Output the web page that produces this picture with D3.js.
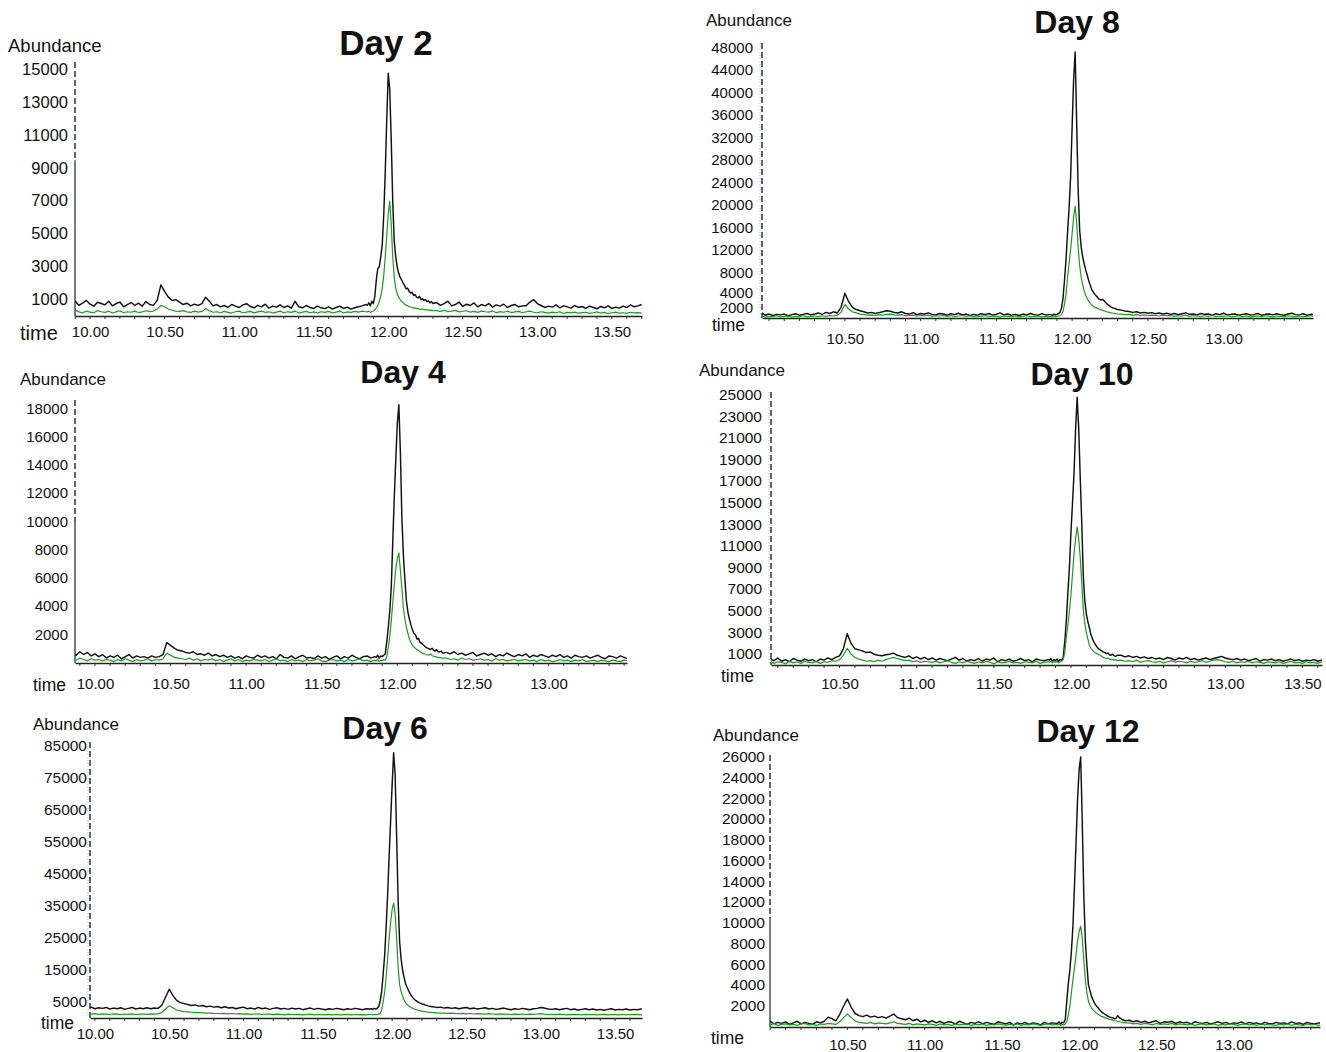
<!DOCTYPE html>
<html><head><meta charset="utf-8">
<script src="https://cdn.jsdelivr.net/npm/d3@7"></script>
<style>
body{margin:0;background:#fff}
svg{display:block}
text{font-family:"Liberation Sans",Arial,sans-serif;fill:#111}
</style>
</head><body>
<svg id="chart" width="1326" height="1052"></svg>
<script>
// ---------- sampling times (min) shared by all runs ----------
const times = [
 9.85,9.875,9.9,9.925,9.95,9.975,10,10.025,10.05,10.075,
 10.1,10.125,10.15,10.175,10.2,10.225,10.25,10.275,10.3,10.325,
 10.35,10.375,10.4,10.425,10.45,10.475,10.5,10.525,10.55,10.575,
 10.6,10.625,10.65,10.675,10.7,10.725,10.75,10.775,10.8,10.825,
 10.85,10.875,10.9,10.925,10.95,10.975,11,11.025,11.05,11.075,
 11.1,11.125,11.15,11.175,11.2,11.225,11.25,11.275,11.3,11.325,
 11.35,11.375,11.4,11.425,11.45,11.475,11.5,11.525,11.55,11.575,
 11.6,11.625,11.65,11.675,11.7,11.725,11.75,11.775,11.8,11.825,
 11.85,
 11.86,11.87,11.88,11.89,11.9,11.91,11.92,11.93,11.94,11.95,
 11.96,11.97,11.98,11.99,12,12.01,12.02,12.03,12.04,12.05,
 12.06,12.07,12.08,12.09,12.1,12.11,12.12,12.13,12.14,12.15,
 12.16,12.17,12.18,12.19,12.2,12.21,12.22,12.23,12.24,12.25,
 12.26,12.27,12.28,12.29,12.3,
 12.325,12.35,12.375,12.4,12.425,12.45,12.475,12.5,12.525,12.55,
 12.575,12.6,12.625,12.65,12.675,12.7,12.725,12.75,12.775,12.8,
 12.825,12.85,12.875,12.9,12.925,12.95,12.975,13,13.025,13.05,
 13.075,13.1,13.125,13.15,13.175,13.2,13.225,13.25,13.275,13.3,
 13.325,13.35,13.375,13.4,13.425,13.45,13.475,13.5,13.525,13.55,
 13.575,13.6,13.625,13.65,13.675,13.7
];

// ---------- Day 2 ----------
const day2Black = [
 820,700,900,650,780,950,720,600,840,760,
 680,900,620,760,850,560,700,820,640,780,
 600,880,700,650,950,1900,1500,1150,950,1000,
 850,700,780,620,720,650,760,1150,900,620,
 700,560,640,520,700,600,520,680,750,580,
 500,650,560,720,480,600,540,680,520,620,
 480,900,560,500,640,520,460,600,500,450,
 560,420,520,600,460,540,420,500,560,620,
 700,
 650,800,620,900,750,1200,2200,2900,3000,3600,
 4400,6200,8800,12000,14800,13800,10800,7000,4600,3600,
 3000,2600,2350,2200,2000,1850,1650,1700,1500,1400,
 1450,1250,1300,1150,1100,1200,1000,1050,950,1000,
 880,920,800,880,760,
 820,650,760,900,620,700,850,580,720,640,
 800,560,700,620,760,540,680,600,720,520,
 640,700,560,620,620,850,1000,760,640,520,
 600,540,680,500,620,560,480,640,520,580,
 460,600,520,440,580,500,620,460,540,480,
 600,520,680,560,620,700
];
const day2Green = [
 300,220,360,250,180,300,240,200,330,260,
 220,290,180,250,320,200,260,230,300,210,
 250,320,280,300,420,650,560,420,350,300,
 280,330,250,220,300,240,280,450,320,230,
 260,200,280,220,180,260,300,200,240,280,
 190,250,300,220,260,180,240,300,200,260,
 220,300,180,240,280,200,250,180,260,220,
 280,200,240,300,180,250,220,280,240,300,
 260,
 250,300,220,280,300,380,500,650,900,1200,
 1700,2500,3600,4900,6200,7000,5600,3600,2400,1700,
 1350,1150,1000,880,800,720,660,630,570,550,
 520,480,500,440,460,420,400,430,380,400,
 360,380,340,360,320,
 330,280,350,260,300,340,250,290,320,240,
 280,220,300,260,240,310,200,270,230,290,
 210,250,280,200,260,300,230,200,260,220,
 180,240,200,260,150,220,190,240,170,210,
 230,160,200,250,180,220,140,200,240,170,
 200,160,230,190,210,180
];
const day2YTicks = [1000,3000,5000,7000,9000,11000,13000,15000];
const day2XTicks = [10.00,10.50,11.00,11.50,12.00,12.50,13.00,13.50];

// ---------- Day 8 ----------
const day8Black = [
 600,700,800,650,900,500,700,450,650,550,
 700,400,600,750,500,650,800,550,700,900,
 650,1000,800,1100,900,1900,4400,2900,1900,1500,
 1300,1100,900,1000,800,950,1100,1300,1200,1000,
 900,1100,800,700,950,600,800,700,900,650,
 550,800,700,500,750,600,850,550,700,450,
 650,500,750,600,800,500,650,900,550,700,
 500,650,450,700,550,800,600,500,750,550,
 600,
 600,450,700,550,650,800,1000,1800,3500,6800,
 10500,15300,19500,25000,34000,42500,47300,34700,22700,15500,
 12600,10800,9600,8500,7600,6600,5800,5000,4600,4200,
 3900,3600,3300,3200,3300,3100,2800,2500,2300,2100,
 1900,1800,1700,1600,1500,
 1400,1250,1150,1000,1100,900,1000,850,950,750,
 900,700,850,650,800,600,750,900,650,700,
 550,800,650,700,500,750,600,850,550,650,
 700,500,650,750,550,600,800,500,650,700,
 550,750,600,500,700,850,600,550,750,500,
 650,600,800,550,700,600
];
const day8Green = [
 300,200,400,250,350,150,300,250,400,200,
 300,350,150,300,250,400,200,300,350,250,
 400,300,450,350,500,1000,2400,1600,1100,900,
 700,600,500,550,450,600,500,650,700,550,
 500,600,400,450,500,350,450,400,500,300,
 400,350,450,300,400,250,350,450,300,400,
 250,350,300,450,250,350,300,200,350,300,
 250,350,200,300,400,250,300,350,200,300,
 250,
 300,200,350,250,300,350,400,600,1200,2500,
 4300,7200,9800,12200,15000,18000,19900,17000,12500,9300,
 7200,5900,4800,4000,3400,3000,2600,2300,2100,1900,
 1800,1650,1550,1450,1400,1300,1200,1100,1050,950,
 900,850,800,750,720,
 700,600,650,500,600,450,550,400,500,450,
 350,500,400,450,300,400,350,500,300,400,
 350,250,400,300,450,250,350,300,400,250,
 300,400,250,350,200,300,350,250,400,300,
 200,350,300,250,400,300,200,350,250,300,
 400,250,300,350,200,300
];
const day8YTicks = [2000,4000,8000,12000,16000,20000,24000,28000,32000,36000,40000,44000,48000];
const day8XTicks = [10.50,11.00,11.50,12.00,12.50,13.00];

// ---------- Day 4 ----------
const day4Black = [
 700,550,800,600,750,500,650,450,600,350,
 500,400,550,300,450,600,350,500,400,450,
 350,500,400,450,600,1450,1250,1050,900,850,
 750,700,800,600,650,550,700,500,600,450,
 550,400,500,350,450,300,500,400,350,550,
 400,500,350,450,300,600,400,350,500,300,
 450,550,350,400,300,500,350,450,250,400,
 500,300,450,350,550,400,300,450,500,350,
 450,
 400,550,350,500,450,550,650,1500,2500,3700,
 5400,8700,11800,14500,17000,18300,15000,10300,7650,5900,
 4400,3600,3100,2700,2350,2100,2000,1700,1750,1450,
 1400,1300,1200,1100,1050,1000,950,1050,900,850,
 950,800,780,850,700,
 750,650,800,600,700,550,650,750,500,600,
 700,550,650,450,600,500,700,550,450,600,
 500,650,400,550,450,600,500,400,550,450,
 600,400,500,350,550,450,400,500,350,450,
 550,400,300,500,450,350,500,400,300,450,
 350,400,300,350,400,300
];
const day4Green = [
 300,200,350,250,150,300,200,250,150,250,
 200,100,250,150,300,200,100,250,150,200,
 300,150,250,200,300,700,550,400,350,300,
 250,350,200,300,150,250,200,300,150,250,
 100,200,300,150,250,100,200,150,250,200,
 150,250,100,200,300,150,200,100,250,150,
 200,100,250,150,200,300,150,100,200,250,
 150,200,100,250,150,200,300,150,200,100,
 200,
 150,250,100,200,150,250,200,450,1100,1900,
 3000,4300,5600,6700,7400,7800,6600,5300,3900,3100,
 2550,2100,1700,1450,1250,1130,1030,950,880,800,
 720,680,640,600,580,560,650,520,480,450,
 420,400,380,360,340,
 350,250,300,200,350,250,300,200,250,300,
 200,250,150,300,200,250,150,200,250,150,
 200,250,150,200,100,250,150,200,100,150,
 250,150,200,100,200,150,250,100,150,200,
 100,200,150,100,200,150,100,200,150,100,
 150,200,100,150,100,150
];
const day4YTicks = [2000,4000,6000,8000,10000,12000,14000,16000,18000];
const day4XTicks = [10.00,10.50,11.00,11.50,12.00,12.50,13.00];

// ---------- Day 10 ----------
const day10Black = [
 500,400,600,350,550,450,700,300,550,400,
 650,350,500,300,600,450,350,550,400,500,
 300,550,450,650,500,700,850,1500,2900,2000,
 1500,1400,1300,1150,1200,1000,900,850,950,1000,
 1100,900,800,700,850,600,750,550,700,500,
 650,450,600,500,400,550,700,450,600,350,
 500,400,600,350,550,450,650,300,500,400,
 550,350,450,600,400,500,300,550,450,400,
 500,
 450,600,350,500,400,550,350,500,450,700,
 2200,4100,6700,9000,12300,15000,17800,21800,24800,22000,
 17400,13200,8200,5900,4700,4000,3400,2800,2400,2100,
 1850,1650,1500,1400,1300,1200,1150,1050,1100,950,
 900,1000,850,800,900,
 900,750,850,700,800,650,750,600,700,550,
 650,500,700,600,450,650,550,700,500,600,
 450,550,650,500,600,700,800,650,550,500,
 600,450,550,400,500,600,350,500,450,550,
 400,500,350,450,550,400,500,350,450,400,
 500,350,450,550,400,500
];
const day10Green = [
 300,200,400,250,350,150,300,200,350,150,
 300,250,100,350,200,300,150,350,250,200,
 350,150,300,250,400,350,500,900,1550,1000,
 700,550,450,350,400,300,450,350,500,600,
 700,600,500,400,450,300,400,250,350,300,
 250,350,200,300,400,250,150,300,200,350,
 250,150,300,200,350,250,100,300,200,250,
 350,200,250,150,300,250,200,350,150,250,
 300,
 250,350,200,300,250,350,200,300,350,500,
 1200,2500,3700,5000,6500,8400,10300,11700,12800,11700,
 10000,7600,5100,3800,3000,2400,1800,1550,1350,1200,
 1100,1050,950,900,800,700,650,600,650,550,
 500,550,450,500,400,
 450,350,400,300,450,250,350,400,300,250,
 350,200,300,400,250,350,300,200,350,250,
 300,400,250,350,450,500,400,300,250,350,
 200,300,250,350,200,300,250,150,300,250,
 200,300,150,250,350,200,250,150,300,200,
 250,150,300,200,250,200
];
const day10YTicks = [1000,3000,5000,7000,9000,11000,13000,15000,17000,19000,21000,23000,25000];
const day10XTicks = [10.50,11.00,11.50,12.00,12.50,13.00,13.50];

// ---------- Day 6 ----------
const day6Black = [
 3800,3500,3300,3600,3100,3400,2900,3200,3000,3300,
 2800,3100,2900,3200,2700,3000,3300,2800,3100,2900,
 3200,2900,3100,3000,4000,6500,9000,7000,5500,4800,
 4500,4200,3900,4100,3700,3900,3500,3700,3400,3600,
 3200,3500,3100,3300,2900,3200,3400,2900,3100,2800,
 3300,2900,3100,2700,3000,3200,2800,3000,2700,3100,
 2800,3000,2600,2900,3100,2700,3000,2800,2600,2900,
 2700,3000,2800,2600,2900,2700,3000,2800,2600,2900,
 2800,
 2900,2700,3000,2800,3100,3600,5500,8500,14000,20000,
 29000,39000,51000,62000,73000,82900,76000,57000,37000,24000,
 18500,15000,12700,10800,9600,8600,7700,6900,6300,5800,
 5400,5100,4800,4600,4400,4300,4100,4000,3800,3700,
 3600,3500,3500,3400,3300,
 3400,3100,3300,3000,3200,2900,3100,3300,2900,3100,
 2800,3000,3200,2800,3000,2700,2900,3100,2800,2600,
 2900,2700,3000,2800,2600,2900,3000,3300,3100,2800,
 2700,2900,2600,2800,3000,2600,2800,2500,2700,2900,
 2600,2800,2500,2700,2400,2700,2900,2500,2700,2600,
 2800,2500,2700,2600,2800,2700
];
const day6Green = [
 1600,1400,1500,1300,1450,1200,1350,1150,1300,1200,
 1100,1300,1200,1050,1250,1150,1300,1100,1200,1250,
 1150,1300,1200,1350,1700,2800,3800,3200,2500,2200,
 2000,1900,1800,1700,1650,1600,1500,1550,1450,1400,
 1350,1450,1300,1400,1250,1350,1200,1300,1150,1250,
 1300,1100,1250,1200,1050,1200,1150,1000,1200,1100,
 1050,1150,1000,1100,1200,950,1100,1050,1000,1150,
 1000,1100,950,1050,1150,1000,1100,950,1050,1000,
 1100,
 1100,1000,1150,1050,1100,1200,1500,2600,5200,8200,
 13000,19000,25000,30000,34000,35900,32500,25000,16000,10500,
 8300,6900,5700,4800,4200,3800,3500,3200,3000,2800,
 2600,2500,2350,2250,2150,2050,2000,1900,1850,1800,
 1750,1700,1650,1600,1600,
 1550,1500,1450,1500,1400,1350,1450,1300,1400,1250,
 1350,1300,1200,1350,1250,1150,1300,1200,1250,1100,
 1200,1150,1250,1100,1200,1150,1250,1350,1200,1100,
 1150,1050,1200,1100,1000,1150,1050,1100,1000,1150,
 1050,1100,950,1050,1150,1000,1100,1050,950,1100,
 1000,1100,1050,1150,1000,1100
];
const day6YTicks = [5000,15000,25000,35000,45000,55000,65000,75000,85000];
const day6XTicks = [10.00,10.50,11.00,11.50,12.00,12.50,13.00,13.50];

// ---------- Day 12 ----------
const day12Black = [
 500,300,450,350,500,250,550,300,450,350,
 500,250,400,550,300,450,350,250,500,400,
 550,950,800,600,1200,2000,2700,1900,1300,1100,
 1000,1150,950,1050,900,1000,850,1050,1250,900,
 800,700,850,600,750,500,650,450,600,400,
 550,350,500,450,300,550,400,250,450,350,
 500,300,450,350,250,500,400,300,450,200,
 400,300,450,250,400,350,200,450,300,400,
 350,
 350,500,300,450,400,700,2500,4200,5500,7300,
 9800,13700,17800,22000,24800,26000,19900,12800,8300,6000,
 4100,3500,2950,2600,2300,2050,1900,1700,1550,1400,
 1300,1200,1100,1000,950,900,850,800,850,1100,
 900,800,700,650,600,
 650,500,600,450,550,400,500,600,350,500,
 450,550,350,500,400,450,300,500,400,350,
 450,300,400,500,350,450,300,400,350,500,
 300,450,350,400,250,450,350,300,450,350,
 400,300,500,350,400,250,450,350,300,400,
 350,450,300,400,350,450
];
const day12Green = [
 300,200,350,150,300,250,200,350,150,250,
 300,200,250,150,300,350,200,250,150,300,
 250,350,300,250,500,900,1260,900,600,450,
 400,350,450,300,400,350,300,400,500,350,
 300,250,350,200,300,250,200,300,250,150,
 300,200,250,150,300,200,250,300,150,250,
 200,300,150,250,200,300,250,150,250,200,
 300,150,250,200,300,250,150,250,300,200,
 250,
 200,300,150,250,200,300,500,1200,2000,3300,
 4600,5700,7000,8300,9200,9700,8600,6500,4600,3300,
 2500,2100,1850,1650,1500,1350,1250,1150,1050,1000,
 950,880,820,760,720,680,640,600,580,550,
 520,480,450,420,400,
 400,300,350,250,350,300,200,350,250,300,
 250,350,200,300,250,200,300,150,250,300,
 200,250,300,150,250,200,300,250,150,250,
 300,200,250,150,300,200,250,200,150,250,
 200,300,150,250,200,150,300,200,250,150,
 250,200,300,150,250,200
];
const day12YTicks = [2000,4000,6000,8000,10000,12000,14000,16000,18000,20000,22000,24000,26000];
const day12XTicks = [10.50,11.00,11.50,12.00,12.50,13.00];

// ---------- layout (positions only) ----------
const panels = [
 {title:"Day 2", black:day2Black, green:day2Green, yTicks:day2YTicks, xTicks:day2XTicks,
  x0:75, x1:642, t0:9.899, t1:13.702, yZero:316, yTop:70, yMax:15000, axisTop:62,
  yPad:7, xPad:10, yFont:16.5, xFont:15, ab:[8,45,18.5], tm:[20,333,20], ti:[386,42,35], solidBelow:9500, blue:false},
 {title:"Day 8", black:day8Black, green:day8Green, yTicks:day8YTicks, xTicks:day8XTicks,
  x0:762, x1:1313, t0:9.953, t1:13.590, yZero:318, yTop:48, yMax:48000, axisTop:43,
  yPad:9, xPad:15, yFont:15, xFont:15, ab:[706,20,17], tm:[712,325,17.5], ti:[1077,22,32], solidBelow:null, blue:true},
 {title:"Day 4", black:day4Black, green:day4Green, yTicks:day4YTicks, xTicks:day4XTicks,
  x0:75, x1:627, t0:9.868, t1:13.519, yZero:663, yTop:409, yMax:18000, axisTop:400,
  yPad:7, xPad:15, yFont:15, xFont:15, ab:[20,379,17], tm:[33,685,17.5], ti:[403,372,32], solidBelow:10000, blue:false},
 {title:"Day 10", black:day10Black, green:day10Green, yTicks:day10YTicks, xTicks:day10XTicks,
  x0:771, x1:1322, t0:10.056, t1:13.627, yZero:665, yTop:395, yMax:25000, axisTop:392,
  yPad:9, xPad:13, yFont:15.5, xFont:15, ab:[699,370,17], tm:[721,676,17.5], ti:[1082,374,32], solidBelow:null, blue:true},
 {title:"Day 6", black:day6Black, green:day6Green, yTicks:day6YTicks, xTicks:day6XTicks,
  x0:90, x1:642, t0:9.967, t1:13.681, yZero:1018, yTop:746, yMax:85000, axisTop:742,
  yPad:3, xPad:10, yFont:15.5, xFont:15, ab:[33,724,17], tm:[41,1023,17.5], ti:[385,728,32], solidBelow:null, blue:true},
 {title:"Day 12", black:day12Black, green:day12Green, yTicks:day12YTicks, xTicks:day12XTicks,
  x0:770, x1:1320, t0:9.999, t1:13.559, yZero:1027, yTop:757, yMax:26000, axisTop:755,
  yPad:5, xPad:12, yFont:15.5, xFont:15, ab:[713,735,17], tm:[711,1038,17.5], ti:[1088,731,32], solidBelow:10500, blue:false}
];

const svg = d3.select("#chart");
const defs = svg.append("defs");
const BLACK = "#111", GREEN = "#1e9a1e";

panels.forEach((p, idx) => {
  if (p.black.length !== times.length || p.green.length !== times.length)
    console.warn(p.title, p.black.length, p.green.length, times.length);
  const x = d3.scaleLinear().domain([p.t0, p.t1]).range([p.x0, p.x1]);
  const y = d3.scaleLinear().domain([0, p.yMax]).range([p.yZero, p.yTop]);
  const g = svg.append("g");

  const clipId = "clip" + idx;
  defs.append("clipPath").attr("id", clipId).append("rect")
    .attr("x", p.x0).attr("y", p.yTop - 30)
    .attr("width", p.x1 - p.x0).attr("height", p.yZero - p.yTop + 30);

  // x axis
  const gx = g.append("g").attr("transform", `translate(0,${p.yZero})`)
    .call(d3.axisBottom(x).tickValues(p.xTicks).tickFormat(d3.format(".2f")).tickSize(0).tickPadding(p.xPad));
  gx.select(".domain").attr("stroke", "#222").attr("stroke-width", 1.3);
  gx.selectAll("text").attr("font-size", p.xFont).attr("fill", "#111")
    .attr("font-family", '"Liberation Sans",Arial,sans-serif');
  const minor = x.ticks(40).filter(t => t >= p.t0 && t <= p.t1);
  g.append("g").selectAll("line").data(minor).join("line")
    .attr("x1", d => x(d)).attr("x2", d => x(d))
    .attr("y1", p.yZero).attr("y2", p.yZero + 3)
    .attr("stroke", "#333").attr("stroke-width", 1);

  // y axis labels
  const gy = g.append("g").attr("transform", `translate(${p.x0},0)`)
    .call(d3.axisLeft(y).tickValues(p.yTicks).tickFormat(d3.format("d")).tickSize(0).tickPadding(p.yPad));
  gy.select(".domain").remove();
  gy.selectAll("text").attr("font-size", p.yFont).attr("fill", "#111")
    .attr("font-family", '"Liberation Sans",Arial,sans-serif');
  // spread labels that would collide (lowest ticks of tall ranges)
  const minGap = p.yFont * 1.0;
  const sorted = p.yTicks.slice().sort((a, b) => a - b);
  const shift = new Map(sorted.map(v => [v, 0]));
  for (let i = 0; i < sorted.length - 1; i++) {
    const gap = y(sorted[i]) - y(sorted[i + 1]);
    if (gap < minGap) {
      const d = (minGap - gap) / 2;
      shift.set(sorted[i], shift.get(sorted[i]) + d);
      shift.set(sorted[i + 1], shift.get(sorted[i + 1]) - d);
    }
  }
  gy.selectAll(".tick").attr("transform", d => `translate(0,${y(d) + shift.get(d)})`);

  // y axis line (dashed, solid near bottom where the original is)
  if (p.blue) {
    g.append("line").attr("x1", p.x0 - 2).attr("x2", p.x0 - 2)
      .attr("y1", p.axisTop).attr("y2", p.yZero)
      .attr("stroke", "#8cc4ee").attr("stroke-width", 1).attr("stroke-dasharray", "1,2");
  }
  const split = p.solidBelow != null ? y(p.solidBelow) : p.yZero;
  g.append("line").attr("x1", p.x0).attr("x2", p.x0)
    .attr("y1", p.axisTop).attr("y2", split)
    .attr("stroke", "#222").attr("stroke-width", 1.4).attr("stroke-dasharray", "6,3");
  if (p.solidBelow != null) {
    g.append("line").attr("x1", p.x0).attr("x2", p.x0)
      .attr("y1", split).attr("y2", p.yZero)
      .attr("stroke", "#222").attr("stroke-width", 1.2);
  }

  // traces
  const line = d3.line().x((d, i) => x(times[i])).y(d => y(d)).defined(d => d != null);
  const gl = g.append("g").attr("clip-path", `url(#${clipId})`);
  gl.append("path").datum(p.black).attr("d", line)
    .attr("fill", "none").attr("stroke", BLACK).attr("stroke-width", 1.45).attr("stroke-linejoin", "round");
  gl.append("path").datum(p.green).attr("d", line)
    .attr("fill", "none").attr("stroke", GREEN).attr("stroke-width", 1.2).attr("stroke-linejoin", "round");

  // texts
  g.append("text").attr("x", p.ab[0]).attr("y", p.ab[1]).attr("font-size", p.ab[2])
    .attr("dominant-baseline", "central").text("Abundance");
  g.append("text").attr("x", p.tm[0]).attr("y", p.tm[1]).attr("font-size", p.tm[2])
    .attr("dominant-baseline", "central").text("time");
  g.append("text").attr("x", p.ti[0]).attr("y", p.ti[1]).attr("font-size", p.ti[2])
    .attr("font-weight", "bold").attr("text-anchor", "middle")
    .attr("dominant-baseline", "central").text(p.title);
});
</script>
</body></html>
